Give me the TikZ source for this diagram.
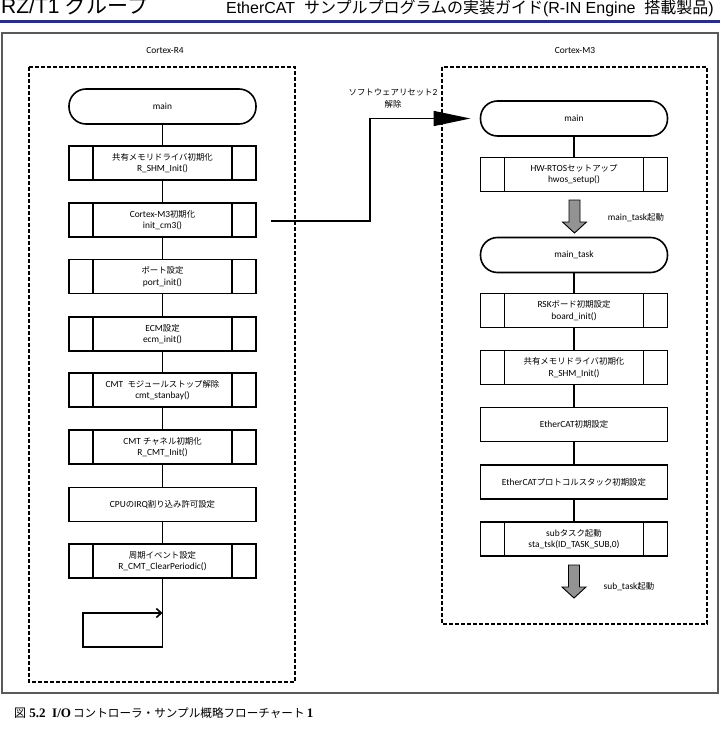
\documentclass[tikz,border=0pt]{standalone}
\usepackage{fontspec}
\setmainfont{Carlito}
\newfontfamily\jpf{Noto Sans CJK JP}
\newfontfamily\hdrf{Liberation Sans}
\newfontfamily\serf{Liberation Serif}
\usetikzlibrary{arrows.meta}
\newcommand\J[1]{{\jpf\fontsize{8.4}{11.5}\selectfont #1}}
\definecolor{hdrblue}{RGB}{40,45,140}
\definecolor{framegray}{RGB}{90,90,90}
\begin{document}
\begin{tikzpicture}[x=1pt,y=-1pt,
  boxline/.style={line width=1.6pt},
  conn/.style={line width=1.6pt},
  term/.style={draw, line width=1.6pt, rounded corners=17pt, minimum width=187pt, minimum height=35pt, inner sep=0pt, outer sep=0pt, font=\fontsize{9.4}{11.5}\selectfont},
  pbox/.style={draw, line width=1.6pt, minimum width=187pt, minimum height=34pt, align=center, inner sep=0pt, outer sep=0pt, font=\fontsize{9.4}{11.5}\selectfont},
  dbox/.style={line width=1.3pt, dash pattern=on 4pt off 2pt},
  lbl/.style={inner sep=0pt, align=center, font=\fontsize{9.4}{11.5}\selectfont},
  garrow/.style={draw, line width=0.9pt, fill=gray!85}
]
\newcommand\procbox[3]{%
  \node[pbox] (#1) at (#2) {#3};
  \draw[boxline] ([xshift=24pt]#1.north west) -- ([xshift=24pt]#1.south west)
                 ([xshift=-24pt]#1.north east) -- ([xshift=-24pt]#1.south east);}
\newcommand\grayarrow[2]{%
  \draw[garrow] (#1-5.5,#2) -- (#1+5.5,#2) -- (#1+5.5,#2+22) -- (#1+12,#2+22)
     -- (#1,#2+33) -- (#1-12,#2+22) -- (#1-5.5,#2+22) -- cycle;}
\useasboundingbox (0,0) rectangle (720,741);
\fill[white] (0,0) rectangle (720,741);

% header
\node[anchor=base west, inner sep=0pt] (hl) at (1,13.5) {\hdrf\fontsize{21}{21}\selectfont RZ/T1 {\jpf グループ}};
\node[anchor=base east, inner sep=0pt] (hr) at (714,14) {\hdrf\fontsize{16}{16}\selectfont EtherCAT\ \ {\jpf サンプルプログラムの実装ガイド}(R-IN Engine\ \ {\jpf 搭載製品})};
\draw[hdrblue, line width=2.6pt] (0,21.5) -- (720,21.5);

% outer frame
\draw[framegray, line width=1.4pt] (2,33) rectangle (718,693);

% dashed regions
\draw[dbox] (29,67) rectangle (295,682);
\draw[dbox] (442,67) rectangle (707,624);
\node[lbl] (lr4) at (165,50) {Cortex-R4};
\node[lbl] (lm3) at (575,50) {Cortex-M3};

% left column
\node[term] (lmain) at (162.5,106.5) {main};
\procbox{l1}{162.5,163}{\J{共有メモリドライバ初期化}\\R\_SHM\_Init()}
\procbox{l2}{162.5,220}{Cortex-M3\J{初期化}\\init\_cm3()}
\procbox{l3}{162.5,276.5}{\J{ポート設定}\\port\_init()}
\procbox{l4}{162.5,334}{ECM\J{設定}\\ecm\_init()}
\procbox{l5}{162.5,390}{CMT\ \ \J{モジュールストップ解除}\\cmt\_stanbay()}
\procbox{l6}{162.5,447}{CMT \J{チャネル初期化}\\R\_CMT\_Init()}
\node[pbox] (l7) at (162.5,504.5) {CPU\J{の}IRQ\J{割り込み許可設定}};
\procbox{l8}{162.5,561}{\J{周期イベント設定}\\R\_CMT\_ClearPeriodic()}

\draw[conn] (lmain) -- (l1);
\draw[conn] (l1) -- (l2);
\draw[conn] (l2) -- (l3);
\draw[conn] (l3) -- (l4);
\draw[conn] (l4) -- (l5);
\draw[conn] (l5) -- (l6);
\draw[conn] (l6) -- (l7);
\draw[conn] (l7) -- (l8);

\coordinate (loopend) at (162.5,613);
\coordinate (loopcorner) at (83,647);
\draw[conn, -{Straight Barb[length=5pt,width=9pt]}] (l8.south) |- (loopcorner) |- (loopend);

% right column
\node[term] (rmain) at (574,118.5) {main};
\procbox{r1}{574,174.5}{HW-RTOS\J{セットアップ}\\hwos\_setup()}
\grayarrow{574.5}{200}
\node[lbl] (mtl) at (636,218) {main\_task\J{起動}};
\node[term] (rtask) at (574,255) {main\_task};
\procbox{r2}{574,310.5}{RSK\J{ボード初期設定}\\board\_init()}
\procbox{r3}{574,367.5}{\J{共有メモリドライバ初期化}\\R\_SHM\_Init()}
\node[pbox] (r4) at (574,424.5) {EtherCAT\J{初期設定}};
\node[pbox] (r5) at (574,482) {EtherCAT\J{プロトコルスタック初期設定}};
\procbox{r6}{574,539}{sub\J{タスク起動}\\sta\_tsk(ID\_TASK\_SUB,0)}
\grayarrow{574}{565}
\node[lbl] (stl) at (629,587) {sub\_task\J{起動}};

\draw[conn] (rmain) -- (r1);
\draw[conn] (rtask) -- (r2);
\draw[conn] (r2) -- (r3);
\draw[conn] (r3) -- (r4);
\draw[conn] (r4) -- (r5);
\draw[conn] (r5) -- (r6);

% cross-core connector
\draw[conn, -{Triangle[length=37pt,width=15pt]}] ([xshift=15pt,yshift=-1pt]l2.east) -- ++(99,0) |- ([xshift=-10pt]rmain.west);
\node[lbl] (rst) at (393,98.5) {\J{ソフトウェアリセット}2\\\J{解除}};

% caption
\node[anchor=base west, inner sep=0pt] (cap) at (14,717) {\serf\bfseries\fontsize{13}{13}\selectfont {\jpf\mdseries\fontsize{12}{13}\selectfont 図}\ 5.2\ \ I/O\,{\jpf\mdseries\fontsize{11.6}{13}\selectfont コントローラ・サンプル概略フローチャート}\,1};
\end{tikzpicture}
\end{document}
